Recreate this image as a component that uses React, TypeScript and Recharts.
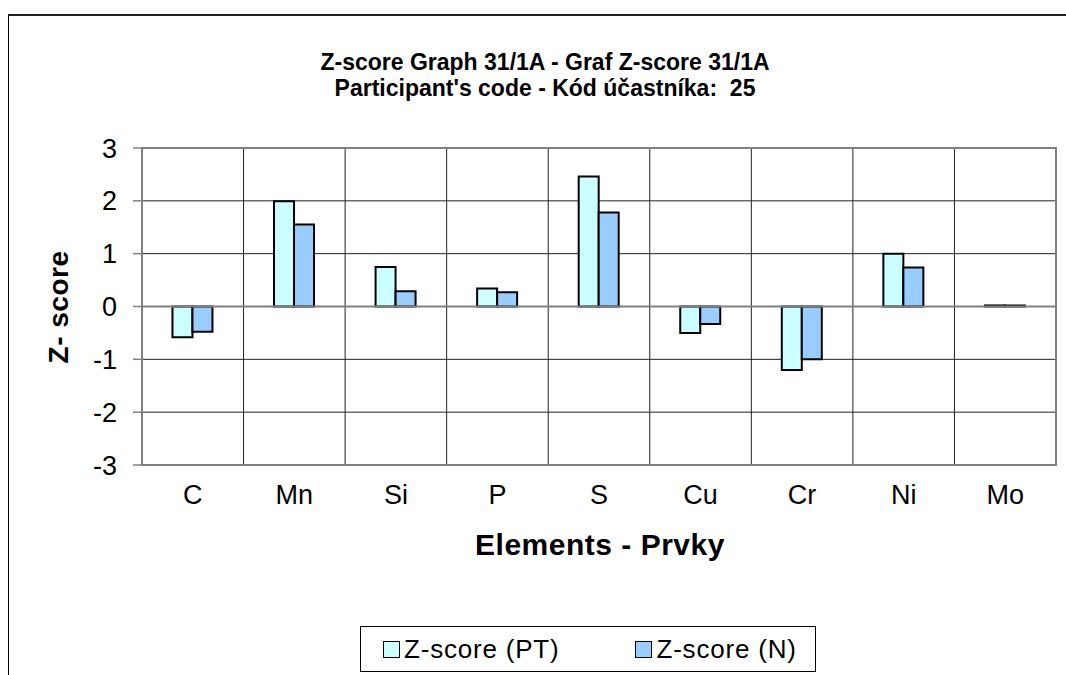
import React from "react";
import {
	Bar,
	BarChart,
	CartesianGrid,
	ReferenceArea,
	ReferenceLine,
	XAxis,
	YAxis,
} from "recharts";

const elements = ["C", "Mn", "Si", "P", "S", "Cu", "Cr", "Ni", "Mo"];
const zScorePT = [-0.58, 1.99, 0.75, 0.34, 2.46, -0.5, -1.2, 1.0, 0.02];
const zScoreN = [-0.48, 1.55, 0.29, 0.27, 1.78, -0.33, -1.0, 0.74, 0.02];
const yTicks = [-3, -2, -1, 0, 1, 2, 3];

const seriesNames = { pt: "Z-score (PT)", n: "Z-score (N)" };
const colors = { pt: "#CCFFFF", n: "#99CCFF" };

const font = '"Liberation Sans", Arial, sans-serif';

const chartData = elements.map((el, i) => ({
	element: el,
	pt: zScorePT[i],
	n: zScoreN[i],
}));

function LegendBox() {
	const item = (color: string, label: string) => (
		<span style={{ display: "inline-flex", alignItems: "center" }}>
			<span
				style={{
					display: "inline-block",
					width: 15,
					height: 15,
					background: color,
					border: "1px solid #000",
					marginRight: 4,
				}}
			/>
			<span>{label}</span>
		</span>
	);
	return (
		<div
			style={{
				position: "absolute",
				left: 360,
				top: 626,
				boxSizing: "border-box",
				width: 456,
				height: 46,
				border: "1px solid #000",
				display: "flex",
				alignItems: "center",
				paddingLeft: 22,
				gap: 76,
				fontFamily: font,
				fontSize: 26,
				letterSpacing: 0.8,
				color: "#000",
				background: "#fff",
			}}
		>
			{item(colors.pt, seriesNames.pt)}
			{item(colors.n, seriesNames.n)}
		</div>
	);
}

export default function App() {
	// vertical grid lines sit on the category boundaries, not the centers
	const verticalGen = ({ offset }: any) => {
		const pts: number[] = [];
		for (let i = 1; i < elements.length; i++) {
			pts.push(offset.left + (i * offset.width) / elements.length);
		}
		return pts;
	};

	return (
		<div style={{ position: "relative", width: 1066, height: 675, overflow: "hidden", background: "#fff" }}>
			<style>{"body{margin:0;overflow:hidden}"}</style>
			<div
				style={{
					position: "absolute",
					left: 8,
					top: 14,
					width: 1100,
					height: 700,
					borderLeft: "1px solid #000",
					borderTop: "2px solid #222",
				}}
			/>
			<div
				style={{
					position: "absolute",
					left: 245,
					top: 49,
					width: 600,
					textAlign: "center",
					fontFamily: font,
					fontWeight: "bold",
					fontSize: 23,
					lineHeight: "26px",
					color: "#000",
				}}
			>
				<div>Z-score Graph 31/1A - Graf Z-score 31/1A</div>
				<div>Participant's code - Kód účastníka:&nbsp; 25</div>
			</div>
			<div style={{ position: "absolute", left: 0, top: 0 }}>
				<BarChart
					width={1066}
					height={675}
					data={chartData}
					margin={{ top: 148, right: 10, left: 42, bottom: 150 }}
					barCategoryGap="30%"
					barGap={0}
				>
					<CartesianGrid
						stroke="#222"
						strokeWidth={1}
						verticalCoordinatesGenerator={verticalGen}
					/>
					<ReferenceArea
						y1={-3}
						y2={3}
						fill="none"
						stroke="#808080"
						strokeWidth={2}
						ifOverflow="visible"
					/>
					<XAxis
						dataKey="element"
						height={60}
						axisLine={false}
						tickLine={false}
						tickSize={0}
						tickMargin={20}
						interval={0}
						tick={{ fill: "#000", fontSize: 27, fontFamily: font }}
					/>
					<YAxis
						width={100}
						domain={[-3, 3]}
						ticks={yTicks}
						interval={0}
						axisLine={{ stroke: "#808080", strokeWidth: 2 }}
						tickLine={{ stroke: "#808080", strokeWidth: 1.5 }}
						tickSize={9}
						tickMargin={16}
						tick={{ fill: "#000", fontSize: 27, fontFamily: font }}
					/>
					<ReferenceLine y={0} stroke="#808080" strokeWidth={2} />
					<Bar
						dataKey="pt"
						name={seriesNames.pt}
						fill={colors.pt}
						stroke="#000"
						strokeWidth={2}
						isAnimationActive={false}
					/>
					<Bar
						dataKey="n"
						name={seriesNames.n}
						fill={colors.n}
						stroke="#000"
						strokeWidth={2}
						isAnimationActive={false}
					/>
				</BarChart>
			</div>
			<LegendBox />
			<div
				style={{
					position: "absolute",
					left: 300,
					top: 530,
					width: 600,
					textAlign: "center",
					fontFamily: font,
					fontWeight: "bold",
					fontSize: 30,
					lineHeight: "30px",
					letterSpacing: 0.5,
					color: "#000",
				}}
			>
				Elements - Prvky
			</div>
			<div
				style={{
					position: "absolute",
					left: 59 - 100,
					top: 307 - 14,
					width: 200,
					height: 28,
					textAlign: "center",
					fontFamily: font,
					fontWeight: "bold",
					fontSize: 28,
					lineHeight: "28px",
					letterSpacing: 0.5,
					color: "#000",
					transform: "rotate(-90deg)",
				}}
			>
				Z- score
			</div>
		</div>
	);
}
